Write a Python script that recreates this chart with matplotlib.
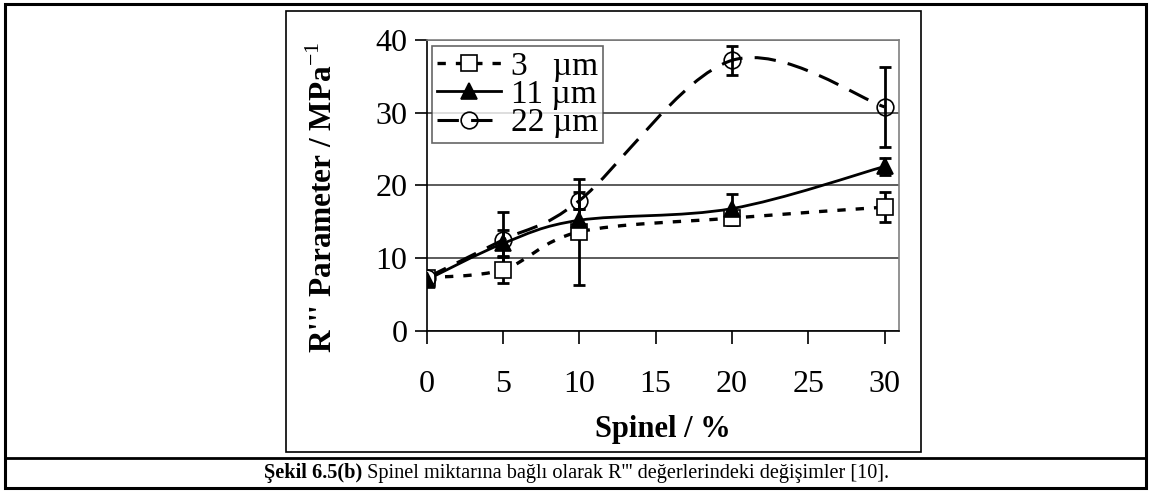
import numpy as np
import matplotlib.pyplot as plt
from matplotlib.path import Path
from matplotlib.patches import PathPatch, Rectangle
from matplotlib.lines import Line2D

plt.rcParams['font.family'] = ['Liberation Serif', 'DejaVu Serif']
plt.rcParams['mathtext.fontset'] = 'custom'
plt.rcParams['mathtext.rm'] = 'Liberation Serif'
plt.rcParams['mathtext.bf'] = 'Liberation Serif:bold'

# data
spinel = [0, 5, 10, 20, 30]
labels = ['3   µm', '11 µm', '22 µm']
r_3um = [7.3, 8.4, 13.6, 15.5, 17.0]
err_3um = [0.5, 1.9, 7.3, 1.0, 2.1]
r_11um = [7.0, 12.0, 15.2, 16.8, 22.6]
err_11um = [0.5, 1.9, 1.5, 2.0, 1.2]
r_22um = [7.3, 12.5, 17.9, 37.2, 30.8]
err_22um = [0.5, 3.8, 1.2, 2.0, 5.5]


def smooth_path(x, y):
    # Excel style smoothed line: cubic bezier between neighbours
    p = np.column_stack([x, y]).astype(float)
    n = len(p)
    verts = [p[0]]
    codes = [Path.MOVETO]
    for i in range(n - 1):
        prev = p[i - 1] if i > 0 else p[i]
        nxt = p[i + 2] if i + 2 < n else p[i + 1]
        c1 = p[i] + (p[i + 1] - prev) / 6
        c2 = p[i + 1] - (nxt - p[i]) / 6
        verts += [c1, c2, p[i + 1]]
        codes += [Path.CURVE4] * 3
    return Path(verts, codes)


fig = plt.figure(figsize=(11.52, 4.91), dpi=100)
ax = fig.add_axes([0.3704, 0.3265, 0.4100, 0.5920])

series = [
    (r_3um, err_3um, 's', 'white', (0, (2.5, 3.0)), 2.4),
    (r_11um, err_11um, '^', 'black', '-', 2.0),
    (r_22um, err_22um, 'o', 'none', (0, (7, 4)), 2.2),
]

handles = []
for (vals, errs, mk, face, ls, lw), lab in zip(series, labels):
    patch = PathPatch(smooth_path(spinel, vals), fill=False, edgecolor='black',
                      linestyle=ls, linewidth=lw, zorder=3)
    ax.add_patch(patch)
    ax.errorbar(spinel, vals, yerr=errs, fmt='none', ecolor='black',
                elinewidth=2, capsize=4, capthick=2, zorder=4)
    ax.plot(spinel, vals, linestyle='none', marker=mk, markersize=12,
            markerfacecolor=face, markeredgecolor='black', markeredgewidth=1.2,
            zorder=5)
    handles.append(Line2D([], [], color='black', linestyle=ls, linewidth=lw,
                          marker=mk, markersize=12, markerfacecolor=face,
                          markeredgecolor='black', markeredgewidth=1.2))

ax.set_xlim(0, 30.95)
ax.set_ylim(0, 40)
ax.set_xticks([0, 5, 10, 15, 20, 25, 30])
ax.set_yticks([0, 10, 20, 30, 40])
ax.yaxis.grid(True, color='#404040', linewidth=1.2)
ax.set_axisbelow(True)
for side in ['top', 'right']:
    ax.spines[side].set_color('#808080')
    ax.spines[side].set_linewidth(1.2)
for side in ['left', 'bottom']:
    ax.spines[side].set_color('black')
    ax.spines[side].set_linewidth(1.2)
ax.tick_params(axis='both', direction='out', length=9, width=1.2,
               labelsize=23)
ax.tick_params(axis='x', pad=19)
ax.tick_params(axis='y', pad=5)

ax.set_xlabel('Spinel / %', fontsize=22, fontweight='bold', labelpad=12)
fig.text(0.281, 0.599, "R''' Parameter / MPa$^{\\mathrm{-1}}$", rotation=90,
         fontsize=22.5, fontweight='bold', ha='center', va='center')

leg = ax.legend(handles, labels, loc='upper left', bbox_to_anchor=(0.012, 0.978),
                fontsize=24, frameon=True, fancybox=False, handlelength=1.9,
                handletextpad=0.3, borderpad=0.15, labelspacing=-0.07,
                borderaxespad=0)
leg.get_frame().set_edgecolor('#404040')
leg.get_frame().set_linewidth(1.2)

# page frames: outer table cell, caption row and the chart object border
W, H = 1152, 491
fig.add_artist(Rectangle((5 / W, 1 - 488 / H), 1141 / W, 484 / H,
                         transform=fig.transFigure, fill=False,
                         edgecolor='black', linewidth=2.2))
fig.add_artist(Line2D([5 / W, 1146 / W], [1 - 458 / H, 1 - 458 / H],
                      transform=fig.transFigure, color='black', linewidth=2))
fig.add_artist(Rectangle((286 / W, 1 - 452 / H), 635 / W, 441 / H,
                         transform=fig.transFigure, fill=False,
                         edgecolor='black', linewidth=1.2))

bold = fig.text(0.229, 1 - 478 / H, 'Şekil 6.5(b)', fontsize=14.6,
                fontweight='bold', ha='left', va='baseline')
ax.annotate(" Spinel miktarına bağlı olarak R''' değerlerindeki değişimler [10].",
            xy=(1, 0), xycoords=bold, va='bottom', ha='left', fontsize=14.6,
            annotation_clip=False)

fig.savefig('out.png', dpi=100)
